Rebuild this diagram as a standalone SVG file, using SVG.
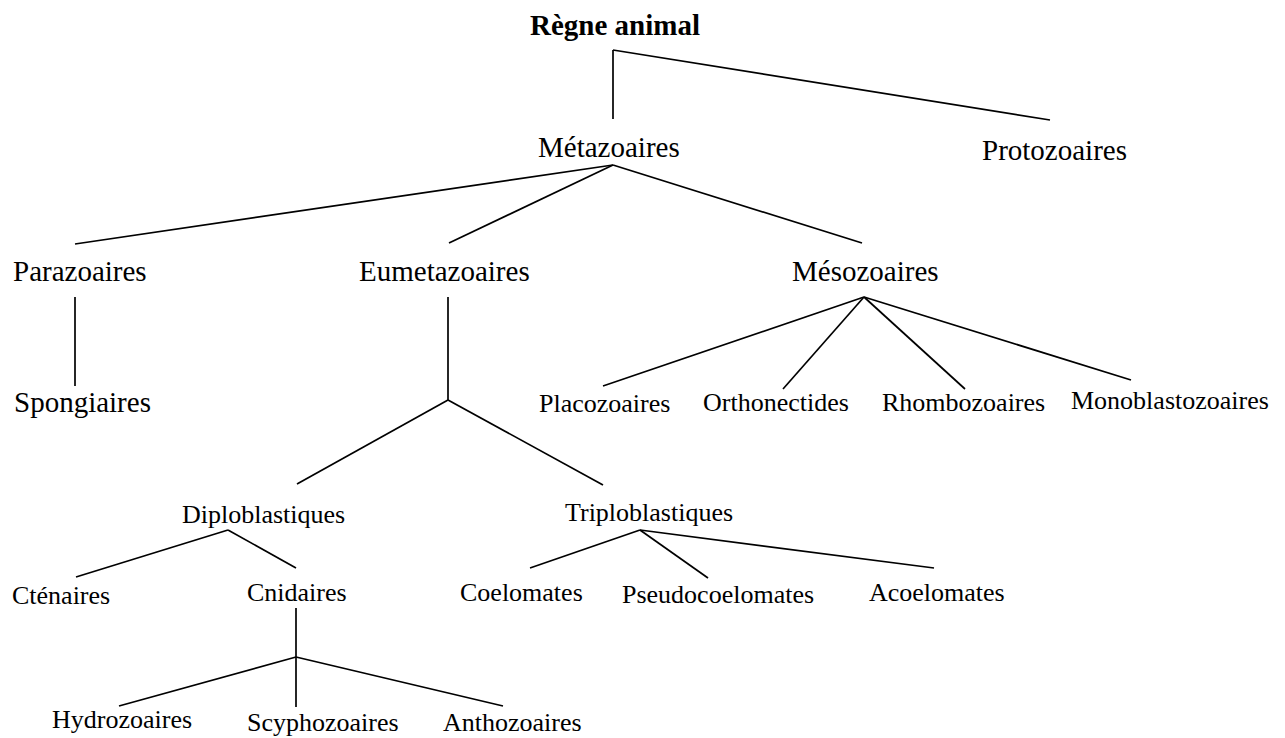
<svg xmlns="http://www.w3.org/2000/svg" width="1285" height="738" viewBox="0 0 1285 738">
<style>
text{font-family:"Liberation Serif","Times New Roman",serif;fill:#000}
.l{font-size:29px}
.s{font-size:26px}
.b{font-weight:bold}
#connectors line{stroke:#000;stroke-width:1.7;stroke-linecap:butt}
</style>
<rect width="1285" height="738" fill="#fff"/>
<g id="connectors">
<line x1="613" y1="50" x2="613" y2="119"/>
<line x1="613" y1="50" x2="1050" y2="120"/>
<line x1="613" y1="165" x2="75" y2="244"/>
<line x1="613" y1="165" x2="449" y2="243"/>
<line x1="613" y1="165" x2="862" y2="243"/>
<line x1="75" y1="297" x2="75" y2="386"/>
<line x1="448" y1="297" x2="448" y2="400"/>
<line x1="448" y1="400" x2="297" y2="484"/>
<line x1="448" y1="400" x2="603" y2="485"/>
<line x1="864" y1="297" x2="603" y2="386"/>
<line x1="864" y1="297" x2="783" y2="389"/>
<line x1="864" y1="297" x2="965" y2="389"/>
<line x1="864" y1="297" x2="1131" y2="380"/>
<line x1="228" y1="530" x2="76" y2="577"/>
<line x1="228" y1="530" x2="296" y2="568"/>
<line x1="640" y1="530" x2="530" y2="568"/>
<line x1="640" y1="530" x2="708" y2="578"/>
<line x1="640" y1="530" x2="934" y2="568"/>
<line x1="296" y1="608" x2="296" y2="657"/>
<line x1="296" y1="657" x2="119" y2="706"/>
<line x1="296" y1="657" x2="296" y2="707"/>
<line x1="296" y1="657" x2="503" y2="706"/>
</g>
<g id="regne"><text class="l b" x="530" y="35">Règne animal</text></g>
<g id="metazoaires"><text class="l" x="538" y="157">Métazoaires</text></g>
<g id="protozoaires"><text class="l" x="982" y="160">Protozoaires</text></g>
<g id="parazoaires"><text class="l" x="13" y="281">Parazoaires</text></g>
<g id="eumetazoaires"><text class="l" x="359" y="281">Eumetazoaires</text></g>
<g id="mesozoaires"><text class="l" x="792" y="281">Mésozoaires</text></g>
<g id="spongiaires"><text class="l" x="14" y="412">Spongiaires</text></g>
<g id="placozoaires"><text class="s" x="539" y="412">Placozoaires</text></g>
<g id="orthonectides"><text class="s" x="703" y="411">Orthonectides</text></g>
<g id="rhombozoaires"><text class="s" x="882" y="411">Rhombozoaires</text></g>
<g id="monoblastozoaires"><text class="s" x="1071" y="409">Monoblastozoaires</text></g>
<g id="diploblastiques"><text class="s" x="182" y="523">Diploblastiques</text></g>
<g id="triploblastiques"><text class="s" x="565" y="521">Triploblastiques</text></g>
<g id="ctenaires"><text class="s" x="12" y="604">Cténaires</text></g>
<g id="cnidaires"><text class="s" x="247" y="601">Cnidaires</text></g>
<g id="coelomates"><text class="s" x="460" y="601">Coelomates</text></g>
<g id="pseudocoelomates"><text class="s" x="622" y="603">Pseudocoelomates</text></g>
<g id="acoelomates"><text class="s" x="869" y="601">Acoelomates</text></g>
<g id="hydrozoaires"><text class="s" x="52" y="728">Hydrozoaires</text></g>
<g id="scyphozoaires"><text class="s" x="247" y="731">Scyphozoaires</text></g>
<g id="anthozoaires"><text class="s" x="443" y="731">Anthozoaires</text></g>
</svg>
